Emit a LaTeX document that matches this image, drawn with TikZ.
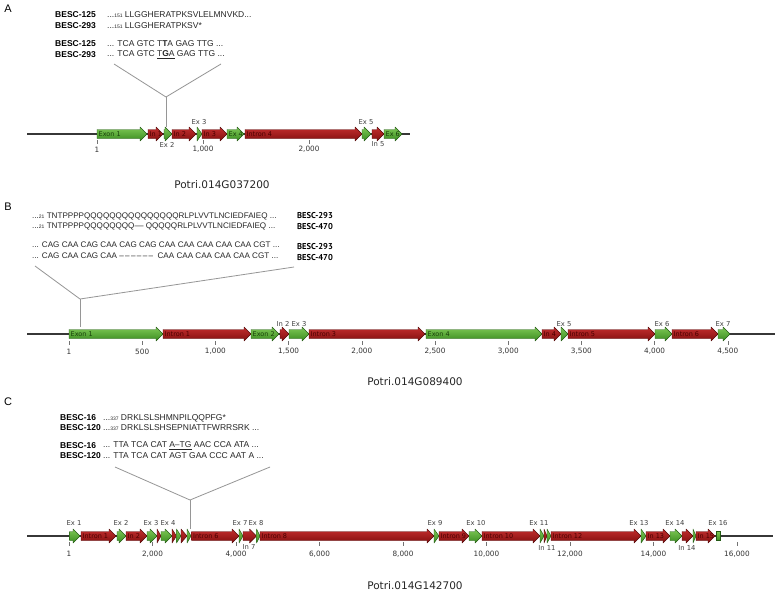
\documentclass[tikz,border=0pt]{standalone}
\usepackage{fontspec}
\setmainfont{Liberation Sans}
\newfontfamily\genefont{DejaVu Sans}
\newfontfamily\labfont{PT Sans}
\usetikzlibrary{calc}

\definecolor{exT}{RGB}{125,200,85}
\definecolor{exB}{RGB}{58,140,32}
\definecolor{exD}{RGB}{35,90,20}
\definecolor{exL}{RGB}{25,65,10}
\definecolor{inT}{RGB}{195,45,45}
\definecolor{inB}{RGB}{130,16,16}
\definecolor{inD}{RGB}{85,10,10}
\definecolor{inL}{RGB}{75,0,0}
\definecolor{connc}{RGB}{150,150,150}
\definecolor{bbc}{RGB}{55,55,55}

\newcommand\smnum[1]{{\fontsize{5}{6}\selectfont #1}}
\newcommand\dsh{\textendash}

\tikzset{
  seqtxt/.style={anchor=west, inner sep=0pt, font=\fontsize{8.5}{10}\selectfont, text=black!85},
  seqB/.style={anchor=west, inner sep=0pt, font=\fontsize{8.1}{10}\selectfont, text=black!85},
  besc/.style={anchor=west, inner sep=0pt, font=\fontsize{8.5}{10}\selectfont\bfseries},
  bescB/.style={anchor=west, inner sep=0pt, font=\labfont\fontsize{8.5}{10}\selectfont\bfseries},
  plet/.style={inner sep=0pt, font=\fontsize{11}{12}\selectfont},
  featlbl/.style={anchor=west, inner sep=0pt, font=\genefont\fontsize{6.5}{7}\selectfont},
  exlbl/.style={inner sep=0pt, font=\genefont\fontsize{6.8}{8}\selectfont, text=black!75},
  ticklbl/.style={inner sep=0pt, font=\genefont\fontsize{7.3}{8}\selectfont, text=black!80},
  title/.style={inner sep=0pt, font=\genefont\fontsize{10.5}{12}\selectfont, text=black!85},
  tickln/.style={draw=black!55, line width=0.6pt},
  connln/.style={draw=connc, line width=0.8pt},
  backbone/.style={draw=bbc, line width=1.1pt},
}

\newcounter{fc}
\newcommand\feat[5]{%
  \stepcounter{fc}%
  \pgfmathsetmacro\hl{min(7,#2-#1)}%
  \pgfmathsetmacro\xb{#2-\hl}%
  \begin{scope}
    \clip (#1,#3-4.5) -- (\xb,#3-4.5) -- (\xb,#3-7) -- (#2,#3) -- (\xb,#3+7) -- (\xb,#3+4.5) -- (#1,#3+4.5) -- cycle;
    \shade[top color=#4T, bottom color=#4B] (#1,#3-7) rectangle (#2,#3+7);
    \node[featlbl, text=#4L] (f\arabic{fc}) at (#1+1.5,#3) {#5};
  \end{scope}
  \draw[draw=#4D, line width=0.45pt, line join=round] (#1,#3-4.5) -- (\xb,#3-4.5) -- (\xb,#3-7) -- (#2,#3) -- (\xb,#3+7) -- (\xb,#3+4.5) -- (#1,#3+4.5) -- cycle;
}

\begin{document}
\begin{tikzpicture}[x=1pt,y=-1pt]
\useasboundingbox (0,0) rectangle (778,592);
\fill[white] (0,0) rectangle (778,592);

%% ================= Panel A =================
\node[plet] (pA) at (8,9) {A};
\node[besc] (A1n) at (55,15) {BESC-125};
\node[seqtxt] (A1s) at (107,15) {...\smnum{151} LLGGHERATPKSVLELMNVKD...};
\node[besc] (A2n) at (55,26) {BESC-293};
\node[seqtxt] (A2s) at (107,26) {...\smnum{151} LLGGHERATPKSV*};
\node[besc] (A3n) at (55,44) {BESC-125};
\node[seqtxt] (A3s) at (107,44) {... TCA GTC T\textbf{T}A GAG TTG ...};
\node[besc] (A4n) at (55,55) {BESC-293};
\node[seqtxt] (A4s) at (107,55) {... TCA GTC \underline{T\textbf{G}A} GAG TTG ...};

\coordinate (Al) at (114,64);
\coordinate (Ar) at (221,64);
\coordinate (Aj) at (166,97);
\coordinate (Ag) at (166,127);
\draw[connln] (Al) -- (Aj) -- (Ar);
\draw[connln] (Aj) -- (Ag);

\coordinate (A0) at (27,134);
\coordinate (A9) at (410,134);
\draw[backbone] (A0) -- (A9);
\feat{97}{147}{134}{ex}{Exon 1}
\feat{148}{163}{134}{in}{In 1}
\feat{164}{172}{134}{ex}{}
\feat{172}{196}{134}{in}{In 2}
\feat{197}{202}{134}{ex}{}
\feat{202}{227}{134}{in}{In 3}
\feat{227}{244}{134}{ex}{Ex 4}
\feat{245}{362}{134}{in}{Intron 4}
\feat{362}{371}{134}{ex}{}
\feat{372}{384}{134}{in}{}
\feat{384}{402}{134}{ex}{Ex 6}
\node[exlbl] (Aex3) at (199,122) {Ex 3};
\node[exlbl] (Aex5) at (366,122) {Ex 5};
\node[exlbl] (Aex2) at (167,145) {Ex 2};
\node[exlbl] (Ain5) at (378,144) {In 5};
\foreach \x/\t [count=\i] in {97/1,203/{1,000},309/{2,000}}{
  \draw[tickln] (\x,140) -- (\x,143.5);
  \node[ticklbl] (tA\i) at (\x,149.5) {\t};
}
\node[title] (tiA) at (222,185) {Potri.014G037200};

%% ================= Panel B =================
\node[plet] (pB) at (8,207) {B};
\node[seqB] (B1s) at (32,216) {...\smnum{21} TNTPPPPQQQQQQQQQQQQQQQRLPLVVTLNCIEDFAIEQ ...};
\node[seqB] (B2s) at (32,226) {...\smnum{21} TNTPPPPQQQQQQQQ\dsh\dsh{} QQQQQRLPLVVTLNCIEDFAIEQ ...};
\node[bescB] (B1n) at (297,216) {BESC-293};
\node[bescB] (B2n) at (297,227) {BESC-470};
\node[seqB] (B3s) at (32,245) {... CAG CAA CAG CAA CAG CAG CAA CAA CAA CAA CAA CGT ...};
\node[seqB] (B4s) at (32,256) {... CAG CAA CAG CAA \dsh\,\dsh\,\dsh\,\dsh\,\dsh\,\dsh\ \ CAA CAA CAA CAA CAA CGT ...};
\node[bescB] (B3n) at (297,247) {BESC-293};
\node[bescB] (B4n) at (297,258) {BESC-470};

\coordinate (Bl) at (35,266);
\coordinate (Br) at (294,267);
\coordinate (Bj) at (80,299);
\coordinate (Bg) at (80,327);
\draw[connln] (Bl) -- (Bj) -- (Br);
\draw[connln] (Bj) -- (Bg);

\coordinate (B0) at (27,334);
\coordinate (B9) at (775,334);
\draw[backbone] (B0) -- (B9);
\feat{69}{163}{334}{ex}{Exon 1}
\feat{163}{251}{334}{in}{Intron 1}
\feat{251}{279}{334}{ex}{Exon 2}
\feat{280}{289}{334}{in}{}
\feat{289}{309}{334}{ex}{}
\feat{309}{425}{334}{in}{Intron 3}
\feat{426}{542}{334}{ex}{Exon 4}
\feat{542}{561}{334}{in}{In 4}
\feat{561}{568}{334}{ex}{}
\feat{568}{655}{334}{in}{Intron 5}
\feat{655}{672}{334}{ex}{}
\feat{672}{718}{334}{in}{Intron 6}
\feat{718}{730}{334}{ex}{}
\node[exlbl] (Bin2) at (283,324) {In 2};
\node[exlbl] (Bex3) at (299,324) {Ex 3};
\node[exlbl] (Bex5) at (564,324) {Ex 5};
\node[exlbl] (Bex6) at (662,324) {Ex 6};
\node[exlbl] (Bex7) at (723,324) {Ex 7};
\foreach \x/\t [count=\i] in {69/1,142.2/500,215.4/{1,000},288.6/{1,500},361.8/{2,000},435/{2,500},508.2/{3,000},581.4/{3,500},654.6/{4,000},727.8/{4,500}}{
  \draw[tickln] (\x,341) -- (\x,344.5);
  \node[ticklbl] (tB\i) at (\x,351.5) {\t};
}
\node[title] (tiB) at (415,382) {Potri.014G089400};

%% ================= Panel C =================
\node[plet] (pC) at (8,402) {C};
\node[besc] (C1n) at (60,418) {BESC-16};
\node[seqtxt] (C1s) at (103,418) {...\smnum{337} DRKLSLSHMNPILQQPFG*};
\node[besc] (C2n) at (60,428) {BESC-120};
\node[seqtxt] (C2s) at (103,428) {...\smnum{337} DRKLSLSHSEPNIATTFWRRSRK ...};
\node[besc] (C3n) at (60,446) {BESC-16};
\node[seqtxt] (C3s) at (103,446) {... TTA TCA CAT \underline{A\textendash TG} AAC CCA ATA ...};
\node[besc] (C4n) at (60,456) {BESC-120};
\node[seqtxt] (C4s) at (103,456) {... TTA TCA CAT AGT GAA CCC AAT A ...};

\coordinate (Cl) at (115,467);
\coordinate (Cr) at (270,467);
\coordinate (Cj) at (190,500);
\coordinate (Cg) at (190,529);
\draw[connln] (Cl) -- (Cj) -- (Cr);
\draw[connln] (Cj) -- (Cg);

\coordinate (C0) at (27,536);
\coordinate (C9) at (773,536);
\draw[backbone] (C0) -- (C9);
\feat{69.6}{80}{536}{ex}{}
\feat{81}{116}{536}{in}{Intron 1}
\feat{117}{126}{536}{ex}{}
\feat{126}{147}{536}{in}{In 2}
\feat{147}{157}{536}{ex}{}
\feat{157}{161}{536}{in}{}
\feat{161}{172}{536}{ex}{}
\feat{172}{176.5}{536}{in}{}
\feat{176.5}{181}{536}{ex}{}
\feat{181}{187}{536}{in}{}
\feat{187}{191}{536}{ex}{}
\feat{191.5}{239}{536}{in}{Intron 6}
\feat{239}{243}{536}{ex}{}
\feat{243}{256.5}{536}{in}{}
\feat{256.5}{260}{536}{ex}{}
\feat{260}{434}{536}{in}{Intron 8}
\feat{434}{439}{536}{ex}{}
\feat{439}{469}{536}{in}{Intron 9}
\feat{469}{482}{536}{ex}{}
\feat{482}{540}{536}{in}{Intron 10}
\feat{540}{544}{536}{ex}{}
\feat{544}{547}{536}{in}{}
\feat{547}{551}{536}{ex}{}
\feat{551}{641}{536}{in}{Intron 12}
\feat{641}{646}{536}{ex}{}
\feat{646}{670}{536}{in}{In 13}
\feat{670}{682}{536}{ex}{}
\feat{682}{693}{536}{in}{}
\feat{693}{696}{536}{ex}{}
\feat{696}{715}{536}{in}{In 15}
\draw[draw=exD, line width=0.45pt, top color=exT, bottom color=exB] (716,531.5) rectangle (720,540.5);
\node[exlbl] (Cex1) at (74,523) {Ex 1};
\node[exlbl] (Cex2) at (121,523) {Ex 2};
\node[exlbl] (Cex3) at (151,523) {Ex 3};
\node[exlbl] (Cex4) at (168,523) {Ex 4};
\node[exlbl] (Cex7) at (240,523) {Ex 7};
\node[exlbl] (Cex8) at (256,523) {Ex 8};
\node[exlbl] (Cex9) at (435,523) {Ex 9};
\node[exlbl] (Cex10) at (476,523) {Ex 10};
\node[exlbl] (Cex11) at (539,523) {Ex 11};
\node[exlbl] (Cex13) at (639,523) {Ex 13};
\node[exlbl] (Cex14) at (675,523) {Ex 14};
\node[exlbl] (Cex16) at (718,523) {Ex 16};
\node[exlbl] (Cin7) at (249,547) {In 7};
\node[exlbl] (Cin11) at (547,548) {In 11};
\node[exlbl] (Cin14) at (687,548) {In 14};
\foreach \x/\t [count=\i] in {69/1,152.5/{2,000},236/{4,000},319.5/{6,000},403/{8,000},486.5/{10,000},570/{12,000},653.5/{14,000},737/{16,000}}{
  \draw[tickln] (\x,542) -- (\x,545.5);
  \node[ticklbl] (tC\i) at (\x,554) {\t};
}
\node[title] (tiC) at (415,586) {Potri.014G142700};
\end{tikzpicture}
\end{document}
